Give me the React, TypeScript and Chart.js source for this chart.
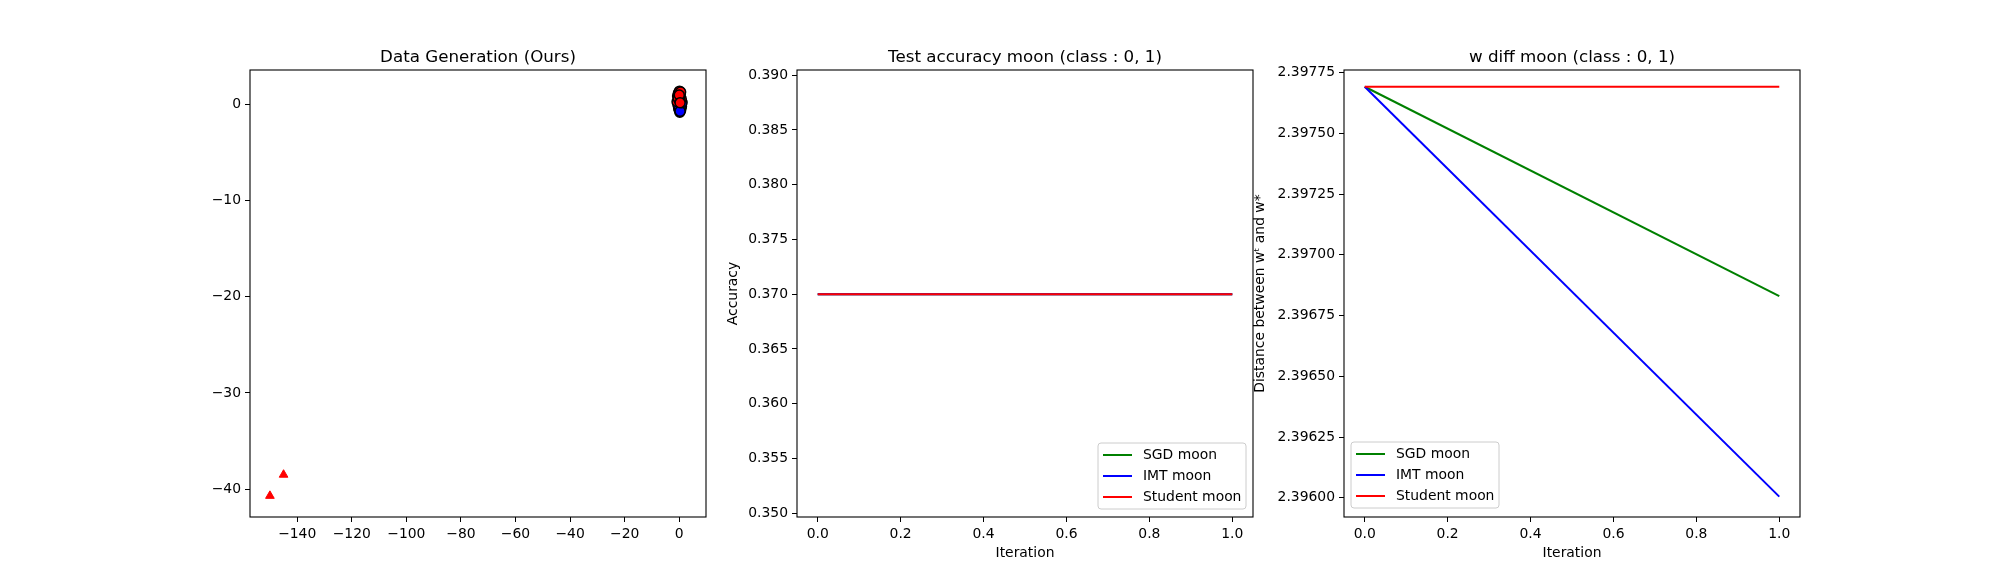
import { useEffect, useRef } from 'react';
import { Chart, registerables } from 'chart.js';

Chart.register(...registerables);

// panel 1: generated data
const redX = [-0.6, -0.3, 0.1, 0.4, 0.7, -0.8, 0.2, -0.1, 0.5, -0.4, 0.0, 0.3];
const redY = [0.9, 1.2, 1.4, 1.1, 0.6, 0.3, 0.8, 0.5, 1.3, 0.7, 1.0, 0.2];
const blueX = [0.8, 0.5, 0.2, -0.2, 0.9, 0.4, 0.0, 0.6, -0.5, 0.3, 1.0, 0.1];
const blueY = [-0.2, -0.6, -0.8, -0.4, 0.3, 0.1, -0.5, -0.3, 0.0, -0.7, 0.2, 0.4];
const triX = [-150, -145, 0.2];
const triY = [-40.7, -38.5, 1.0];
const xTicks1 = [-140, -120, -100, -80, -60, -40, -20, 0];
const yTicks1 = [-40, -30, -20, -10, 0];

// panels 2 and 3
const iterations = [0, 1];
const accSGD = [0.37, 0.37];
const accIMT = [0.37, 0.37];
const accStudent = [0.37, 0.37];
const diffSGD = [2.397692, 2.39683];
const diffIMT = [2.397692, 2.396005];
const diffStudent = [2.397692, 2.397692];
const iterTicks = [0, 0.2, 0.4, 0.6, 0.8, 1.0];
const accTicks = [0.35, 0.355, 0.36, 0.365, 0.37, 0.375, 0.38, 0.385, 0.39];
const diffTicks = [2.396, 2.39625, 2.3965, 2.39675, 2.397, 2.39725, 2.3975, 2.39775];
const seriesNames = ['SGD moon', 'IMT moon', 'Student moon'];
const seriesColors = ['green', 'blue', 'red'];

const FONT = "'DejaVu Sans', sans-serif";
const AXW = 456;
const YW = 110;
const PADR = 15;
const H = 580;

const minus = (s: string) => s.replace('-', '\u2212');

function framePlugin(title: string, panelLeft: number, legend?: { x: number; y: number }) {
  return {
    id: 'frame',
    afterDraw(chart: any) {
      const { ctx, chartArea: a } = chart;
      ctx.save();
      ctx.strokeStyle = '#000';
      ctx.lineWidth = 1.1;
      ctx.strokeRect(a.left, a.top, a.right - a.left, a.bottom - a.top);
      ctx.fillStyle = '#000';
      ctx.font = `16.7px ${FONT}`;
      ctx.textAlign = 'center';
      ctx.textBaseline = 'alphabetic';
      ctx.fillText(title, (a.left + a.right) / 2, a.top - 8);
      if (legend) {
        const lx = legend.x - (panelLeft - YW);
        const ly = legend.y;
        ctx.fillStyle = 'rgba(255,255,255,0.8)';
        ctx.strokeStyle = '#ccc';
        ctx.lineWidth = 1;
        ctx.beginPath();
        ctx.roundRect(lx, ly, 148, 66, 3);
        ctx.fill();
        ctx.stroke();
        ctx.font = `13.9px ${FONT}`;
        ctx.textAlign = 'left';
        ctx.textBaseline = 'middle';
        seriesNames.forEach((n, i) => {
          const yy = ly + 12 + i * 21;
          ctx.strokeStyle = seriesColors[i];
          ctx.lineWidth = 2;
          ctx.beginPath();
          ctx.moveTo(lx + 5, yy);
          ctx.lineTo(lx + 34, yy);
          ctx.stroke();
          ctx.fillStyle = '#000';
          ctx.fillText(n, lx + 45, yy);
        });
      }
      ctx.restore();
    },
  };
}

function axis(min: number, max: number, ticks: number[], fmt: (v: number) => string, title: string, isY: boolean, titlePad: number) {
  return {
    type: 'linear',
    min,
    max,
    afterBuildTicks: (s: any) => { s.ticks = ticks.map((v) => ({ value: v })); },
    afterFit: (s: any) => {
      if (isY) s.width = YW; else s.height = H - 517;
    },
    grid: { drawOnChartArea: false, tickLength: 5, color: '#000' },
    border: { display: false },
    ticks: { color: '#000', font: { family: FONT, size: 13.9 }, padding: 4, maxRotation: 0, autoSkip: false, callback: (v: any) => minus(fmt(Number(v))) },
    title: {
      display: title !== '',
      text: title,
      color: '#000',
      font: { family: FONT, size: 13.9 },
      padding: isY ? { top: titlePad, bottom: 0 } : { top: 4, bottom: titlePad },
    },
  };
}

function lineData(a: number[], b: number[], c: number[]) {
  return [a, b, c].map((s, i) => ({
    label: seriesNames[i],
    data: iterations.map((x, j) => ({ x, y: s[j] })),
    borderColor: seriesColors[i],
    borderWidth: 2,
    pointRadius: 0,
    showLine: true,
    fill: false,
    order: 2 - i,
  }));
}

function Panel({ left, config }: { left: number; config: any }) {
  const ref = useRef<HTMLCanvasElement>(null);
  useEffect(() => {
    if (!ref.current) return;
    const chart = new Chart(ref.current, config);
    return () => chart.destroy();
  }, []);
  return (
    <div style={{ position: 'absolute', left: left - YW, top: 0, width: AXW + YW + PADR, height: H }}>
      <canvas ref={ref} style={{ position: 'absolute', left: 0, top: 0 }} />
    </div>
  );
}

const common = {
  animation: false,
  responsive: true,
  maintainAspectRatio: false,
  layout: { padding: { top: 70, right: PADR, left: 0, bottom: 0 } },
};

export default function App() {
  const cfg1 = {
    type: 'scatter',
    data: {
      datasets: [
        { data: redX.map((x, i) => ({ x, y: redY[i] })), backgroundColor: 'red', borderColor: '#000', borderWidth: 1.5, pointRadius: 5 },
        { data: blueX.map((x, i) => ({ x, y: blueY[i] })), backgroundColor: 'blue', borderColor: '#000', borderWidth: 1.5, pointRadius: 5 },
        { data: triX.map((x, i) => ({ x, y: triY[i] })), backgroundColor: 'red', borderColor: 'red', pointStyle: 'triangle', pointRadius: 5 },
      ],
    },
    options: {
      ...common,
      plugins: { legend: { display: false }, tooltip: { enabled: false } },
      scales: {
        x: axis(-157.3, 9.8, xTicks1, (v) => String(v), '', false, 0),
        y: axis(-42.9, 3.6, yTicks1, (v) => String(v), '', true, 0),
      },
    },
    plugins: [framePlugin('Data Generation (Ours)', 250)],
  };
  const cfg2 = {
    type: 'scatter',
    data: { datasets: lineData(accSGD, accIMT, accStudent) },
    options: {
      ...common,
      plugins: { legend: { display: false }, tooltip: { enabled: false } },
      scales: {
        x: axis(-0.05, 1.05, iterTicks, (v) => v.toFixed(1), 'Iteration', false, 18),
        y: axis(0.34965, 0.39047, accTicks, (v) => v.toFixed(3), 'Accuracy', true, 38),
      },
    },
    plugins: [framePlugin('Test accuracy moon (class : 0, 1)', 797, { x: 1098, y: 443 })],
  };
  const cfg3 = {
    type: 'scatter',
    data: { datasets: lineData(diffSGD, diffIMT, diffStudent) },
    options: {
      ...common,
      plugins: { legend: { display: false }, tooltip: { enabled: false } },
      scales: {
        x: axis(-0.05, 1.05, iterTicks, (v) => v.toFixed(1), 'Iteration', false, 18),
        y: axis(2.395921, 2.397761, diffTicks, (v) => v.toFixed(5), 'Distance between w\u1D57 and w*', true, 18),
      },
    },
    plugins: [framePlugin('w diff moon (class : 0, 1)', 1344, { x: 1351, y: 442 })],
  };
  return (
    <div style={{ position: 'fixed', left: 0, top: 0, width: 2000, height: H, background: '#fff' }}>
      <Panel left={250} config={cfg1} />
      <Panel left={797} config={cfg2} />
      <Panel left={1344} config={cfg3} />
    </div>
  );
}
